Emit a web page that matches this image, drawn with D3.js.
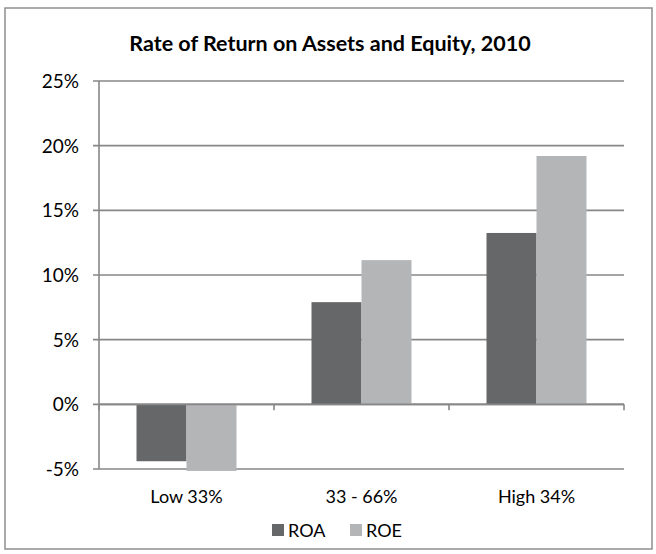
<!DOCTYPE html>
<html>
<head>
<meta charset="utf-8">
<script src="https://cdn.jsdelivr.net/npm/d3@7"></script>
<style>
  html, body { margin: 0; padding: 0; background: #fff; }
  svg { display: block; }
  text { font-family: Lato, "Open Sans", sans-serif; fill: #000; }
</style>
</head>
<body>
<svg id="chart" width="656" height="554"></svg>
<script>
const categories = ["Low 33%", "33 - 66%", "High 34%"];
const seriesNames = ["ROA", "ROE"];
const roaValues = [-4.4, 7.9, 13.25];
const roeValues = [-5.15, 11.15, 19.2];
const yTicks = [-5, 0, 5, 10, 15, 20, 25];
const titleText = "Rate of Return on Assets and Equity, 2010";

const colors = { ROA: "#666769", ROE: "#b4b5b7" };
const gridColor = "#878787";

const svg = d3.select("#chart");

// outer border
svg.append("rect")
  .attr("x", 5).attr("y", 8).attr("width", 647).attr("height", 541)
  .attr("fill", "#fff").attr("stroke", "#8e8e8e").attr("stroke-width", 1.5);

const plot = { left: 99, right: 624, top: 81, bottom: 469 };

const y = d3.scaleLinear().domain([-5, 25]).range([plot.bottom, plot.top]);
const x0 = d3.scaleBand().domain(categories).range([plot.left, plot.right]).padding(0);
const x1 = d3.scaleBand().domain(seriesNames).range([0, x0.bandwidth()])
  .paddingInner(0).paddingOuter(0.75);

// gridlines
svg.append("g").selectAll("line").data(yTicks).join("line")
  .attr("x1", plot.left - 6).attr("x2", plot.right)
  .attr("y1", d => y(d)).attr("y2", d => y(d))
  .attr("stroke", gridColor).attr("stroke-width", 1.6);

// y tick labels
svg.append("g").selectAll("text").data(yTicks).join("text")
  .attr("x", 79).attr("y", d => y(d))
  .attr("dy", "0.36em")
  .attr("text-anchor", "end")
  .attr("font-size", 19)
  .text(d => d + "%");

// bars
const data = categories.map((c, i) => ({ cat: c, vals: [
  { key: "ROA", v: roaValues[i] }, { key: "ROE", v: roeValues[i] }
]}));

const groups = svg.append("g").selectAll("g").data(data).join("g")
  .attr("transform", d => `translate(${x0(d.cat)},0)`);
groups.selectAll("rect").data(d => d.vals).join("rect")
  .attr("x", d => x1(d.key))
  .attr("width", x1.bandwidth())
  .attr("y", d => y(Math.max(0, d.v)))
  .attr("height", d => Math.abs(y(d.v) - y(0)))
  .attr("fill", d => colors[d.key]);

// y axis line
svg.append("line")
  .attr("x1", plot.left).attr("x2", plot.left)
  .attr("y1", plot.top).attr("y2", plot.bottom)
  .attr("stroke", gridColor).attr("stroke-width", 1.6);

// x axis (at zero) with category ticks
svg.append("line")
  .attr("x1", plot.left).attr("x2", plot.right)
  .attr("y1", y(0)).attr("y2", y(0))
  .attr("stroke", gridColor).attr("stroke-width", 1.6);
const boundaries = categories.map(c => x0(c)).concat([plot.right]);
svg.append("g").selectAll("line").data(boundaries).join("line")
  .attr("x1", d => d).attr("x2", d => d)
  .attr("y1", y(0)).attr("y2", y(0) + 6)
  .attr("stroke", gridColor).attr("stroke-width", 1.6);

// category labels
svg.append("g").selectAll("text").data(categories).join("text")
  .attr("x", d => x0(d) + x0.bandwidth() / 2)
  .attr("y", 503)
  .attr("text-anchor", "middle")
  .attr("font-size", 18)
  .text(d => d);

// title
svg.append("text")
  .attr("x", 330).attr("y", 51)
  .attr("text-anchor", "middle")
  .attr("font-size", 21.5)
  .attr("font-weight", "bold")
  .text(titleText);

// legend
const legendX = [272, 350];
const leg = svg.append("g").selectAll("g").data(seriesNames).join("g")
  .attr("transform", (d, i) => `translate(${legendX[i]},524)`);
leg.append("rect").attr("width", 12).attr("height", 12).attr("fill", d => colors[d]);
leg.append("text").attr("x", 16).attr("y", 12.5).attr("font-size", 18).text(d => d);
</script>
</body>
</html>
